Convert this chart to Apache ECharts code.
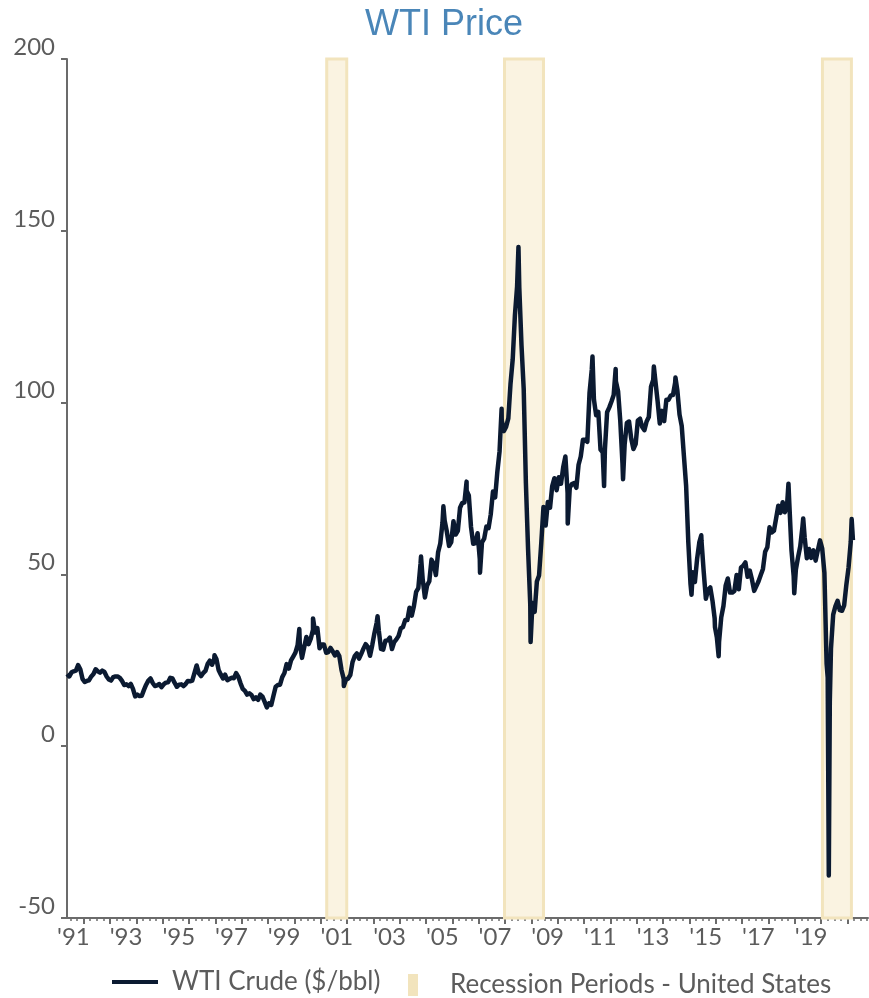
<!DOCTYPE html>
<html>
<head>
<meta charset="utf-8">
<script src="https://cdn.jsdelivr.net/npm/echarts@6/dist/echarts.min.js"></script>
<style>
  html, body { margin: 0; padding: 0; background: #fff; }
  #main { width: 869px; height: 998px; }
</style>
</head>
<body>
<div id="main"></div>
<script>
// WTI monthly levels, May 1991 .. Mar 2021
var startYear = 1991, startMonth = 5;
var wtiMonthly = [
  21.0, 20.3, 21.5, 21.8, 22.0, 23.6, 22.4, 19.6,                          // 1991
  18.7, 19.0, 19.2, 20.3, 21.0, 22.4, 21.8, 21.4, 22.0, 21.6, 20.3, 19.4,  // 1992
  19.1, 20.1, 20.3, 20.3, 19.9, 19.0, 17.8, 18.0, 17.5, 18.1, 16.7, 14.5,  // 1993
  15.0, 14.6, 14.7, 16.4, 17.9, 19.1, 19.7, 18.4, 17.5, 17.7, 18.1, 17.2,  // 1994
  18.0, 18.5, 18.6, 19.9, 19.7, 18.4, 17.3, 17.9, 18.0, 17.5, 18.1, 19.0,  // 1995
  18.9, 19.1, 21.3, 23.5, 21.2, 20.4, 21.3, 21.9, 23.9, 24.9, 23.7, 25.2,  // 1996
  25.4, 22.2, 20.9, 19.7, 20.8, 19.2, 19.6, 19.9, 19.8, 21.3, 20.2, 18.3,  // 1997
  16.7, 16.1, 15.0, 15.4, 14.9, 13.7, 14.2, 13.5, 15.0, 14.4, 12.9, 11.3,  // 1998
  12.5, 12.0, 14.7, 17.3, 17.8, 17.9, 20.1, 21.3, 23.9, 22.6, 25.0, 26.1,  // 1999
  27.2, 29.4, 29.9, 25.7, 28.8, 31.8, 29.7, 31.3, 33.9, 33.1, 34.4, 28.5,  // 2000
  29.6, 29.6, 27.2, 27.4, 28.6, 27.6, 26.4, 27.4, 26.2, 22.2, 19.6, 19.3,  // 2001
  19.7, 20.7, 24.4, 26.2, 27.0, 25.5, 26.9, 28.4, 29.7, 28.9, 26.3, 29.4,  // 2002
  32.9, 35.9, 33.6, 28.3, 28.1, 30.7, 30.8, 31.6, 28.3, 30.3, 31.1, 32.1,  // 2003
  34.3, 34.7, 36.7, 36.7, 40.3, 38.0, 40.8, 44.9, 46.0, 53.1, 48.5, 43.3,  // 2004
  46.8, 48.0, 54.3, 53.0, 49.8, 56.4, 59.0, 65.0, 65.6, 62.4, 58.3, 59.4,  // 2005
  65.5, 61.6, 62.7, 69.4, 70.8, 70.9, 74.4, 73.0, 63.8, 58.9, 59.1, 62.0,  // 2006
  54.5, 59.3, 60.4, 63.9, 63.5, 67.5, 74.1, 72.4, 79.9, 85.8, 94.8, 91.7,  // 2007
  93.0, 95.4, 105.5, 112.6, 125.4, 133.9, 133.4, 116.7, 104.1, 76.6, 57.3, 41.1, // 2008
  41.7, 39.1, 47.9, 49.7, 59.0, 69.6, 64.2, 71.1, 69.4, 75.7, 78.0, 74.5,  // 2009
  78.3, 76.4, 81.2, 84.3, 73.7, 75.3, 76.3, 76.6, 75.2, 81.9, 84.3, 89.2,  // 2010
  89.2, 88.6, 102.9, 109.5, 100.9, 96.3, 97.3, 86.3, 85.5, 86.3, 97.2, 98.6, // 2011
  100.3, 102.2, 106.2, 103.3, 94.7, 82.3, 87.9, 94.1, 94.5, 89.5, 86.5, 87.9, // 2012
  94.8, 95.3, 92.9, 92.0, 94.5, 95.8, 104.6, 106.6, 106.3, 100.5, 93.9, 97.6, // 2013
  94.6, 100.8, 100.8, 102.1, 102.2, 105.8, 103.6, 96.5, 93.2, 84.4, 75.8, 59.3, // 2014
  47.2, 50.6, 47.8, 54.5, 59.3, 59.8, 50.9, 42.9, 45.5, 46.2, 42.4, 37.2,  // 2015
  31.7, 30.3, 37.5, 40.8, 46.7, 48.8, 44.7, 44.7, 45.2, 49.8, 45.7, 52.0,  // 2016
  52.5, 53.5, 49.3, 51.1, 48.5, 45.2, 46.6, 48.0, 49.8, 51.6, 56.6, 57.9,  // 2017
  63.7, 62.2, 62.7, 66.3, 70.0, 67.9, 71.0, 68.1, 70.2, 70.8, 57.0, 49.5,  // 2018
  51.4, 55.0, 58.2, 63.9, 60.8, 54.7, 57.4, 54.8, 57.0, 54.0, 57.0, 59.9,  // 2019
  57.5, 50.5, 24.0, -37.6, 28.5, 38.3, 40.7, 42.3, 39.6, 39.4, 41.0, 47.0, // 2020
  52.0, 59.5, 60.0                                                          // 2021
];

// intra-month highs / lows visible on the chart
var spikeDates = [1996.97, 1998.96, 2000.19, 2000.71, 2001.88, 2003.16, 2004.81, 2005.66,
  2006.54, 2007.05, 2007.87, 2008.51, 2008.97, 2010.38, 2011.32, 2011.76, 2012.2, 2012.48,
  2013.65, 2014.47, 2015.08, 2015.45, 2015.97, 2016.11, 2018.76, 2018.98, 2019.32,
  2020.25, 2020.33, 2021.16];
var spikeValues = [26.5, 10.8, 34.1, 37.2, 17.5, 37.8, 55.2, 69.8,
  77.0, 50.5, 98.2, 145.3, 30.3, 64.8, 113.4, 75.7, 109.8, 77.7,
  110.5, 107.3, 44.1, 61.4, 34.7, 26.2, 76.4, 44.5, 66.3,
  20.0, 13.0, 66.1];

// US recessions (shaded)
var recStart = [2001.23, 2007.98, 2020.05];
var recEnd = [2001.99, 2009.46, 2021.15];

var yearLabels = [1991, 1993, 1995, 1997, 1999, 2001, 2003, 2005, 2007, 2009, 2011, 2013, 2015, 2017, 2019];

var points = [];
wtiMonthly.forEach(function (v, i) {
  var m = startMonth - 1 + i;
  points.push([startYear + (m + 0.5) / 12, v]);
});
spikeDates.forEach(function (d, i) { points.push([d, spikeValues[i]]); });
points.sort(function (a, b) { return a[0] - b[0]; });

var yearTicks = [], quarterTicks = [];
for (var y = 1991; y <= 2021; y++) {
  if (y >= 1992) yearTicks.push(y);
  [0.25, 0.5, 0.75].forEach(function (q) {
    if (y + q > 1991.4 && y + q < 2021.78) quarterTicks.push(y + q);
  });
}

var axisGray = '#6b6b6b';
var textGray = '#5c5c5c';
var font = 'Lato';

var option = {
  animation: false,
  backgroundColor: '#fff',
  title: {
    text: 'WTI Price',
    left: 360,
    top: 2,
    textStyle: { fontFamily: 'Liberation Sans', fontSize: 36, fontWeight: 'normal', color: '#4a86b8' }
  },
  legend: [
    {
      data: ['WTI Crude ($/bbl)'],
      left: 112, top: 969, padding: 0,
      icon: 'rect', itemWidth: 46, itemHeight: 4,
      itemStyle: { borderWidth: 0 },
      textStyle: { fontFamily: font, fontSize: 26, color: textGray, padding: [0, 0, 0, 9] }
    },
    {
      data: ['Recession Periods - United States'],
      left: 408, top: 972, padding: 0,
      icon: 'rect', itemWidth: 10, itemHeight: 22,
      itemStyle: { borderWidth: 0 },
      textStyle: { fontFamily: font, fontSize: 26, color: textGray, padding: [0, 0, 0, 27] }
    }
  ],
  grid: [
    { left: 67, right: 1, top: 59, bottom: 80 },
    { left: 57, right: 1, top: 59, bottom: 80 }
  ],
  xAxis: [
    {
      gridIndex: 0, type: 'value', min: 1991.37, max: 2021.78, position: 'bottom',
      axisLine: { onZero: false, lineStyle: { color: axisGray, width: 2 } },
      axisTick: { customValues: yearTicks, length: 6, lineStyle: { color: axisGray, width: 2 } },
      axisLabel: { show: false },
      splitLine: { show: false }
    },
    {
      gridIndex: 0, type: 'value', min: 1991.37, max: 2021.78, position: 'bottom',
      axisLine: { show: false, onZero: false },
      axisTick: { customValues: quarterTicks, length: 3, lineStyle: { color: axisGray, width: 1.5 } },
      axisLabel: { show: false },
      splitLine: { show: false }
    },
    {
      gridIndex: 1, type: 'value', min: 1991, max: 2021.78, position: 'bottom',
      axisLine: { show: false, onZero: false },
      axisTick: { show: false },
      splitLine: { show: false },
      axisLabel: {
        customValues: yearLabels,
        align: 'left', margin: 7,
        fontFamily: font, fontSize: 24, color: textGray,
        formatter: function (v) { return "'" + String(Math.round(v)).slice(2); }
      }
    }
  ],
  yAxis: [
    {
      gridIndex: 0, type: 'value', min: -50, max: 200, interval: 50,
      axisLine: { show: true, lineStyle: { color: axisGray, width: 2 } },
      axisTick: { show: true, length: 6, lineStyle: { color: axisGray, width: 2 } },
      splitLine: { show: false },
      axisLabel: { fontFamily: font, fontSize: 24, color: textGray, margin: 12, verticalAlign: 'bottom' }
    },
    { gridIndex: 1, type: 'value', min: -50, max: 200, show: false }
  ],
  series: [
    {
      name: 'Recession Periods - United States',
      type: 'line',
      xAxisIndex: 0, yAxisIndex: 0,
      data: [],
      itemStyle: { color: '#f2e4bd' },
      markArea: {
        silent: true,
        itemStyle: { color: '#faf3e1', borderColor: '#f2e4bd', borderWidth: 3 },
        data: recStart.map(function (s, i) {
          return [{ xAxis: s, yAxis: 200 }, { xAxis: recEnd[i], yAxis: -50 }];
        })
      }
    },
    {
      name: 'WTI Crude ($/bbl)',
      type: 'line',
      xAxisIndex: 0, yAxisIndex: 0,
      data: points,
      showSymbol: false,
      symbol: 'none',
      itemStyle: { color: '#0b1a31' },
      lineStyle: { color: '#0b1a31', width: 4.5, join: 'round' },
      z: 3
    }
  ]
};

var chart = echarts.init(document.getElementById('main'));
chart.setOption(option);
</script>
</body>
</html>
